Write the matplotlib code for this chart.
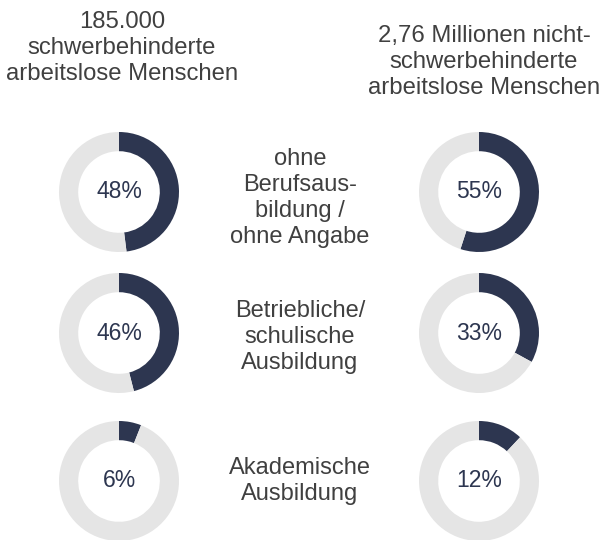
import matplotlib.pyplot as plt

plt.rcParams['font.family'] = ['Liberation Sans', 'DejaVu Sans']

# Daten
gruppen = ["185.000\nschwerbehinderte\narbeitslose Menschen",
           "2,76 Millionen nicht-\nschwerbehinderte\narbeitslose Menschen"]
kategorien = ["ohne\nBerufsaus-\nbildung /\nohne Angabe",
              "Betriebliche/\nschulische\nAusbildung",
              "Akademische\nAusbildung"]
anteil_sb = [48, 46, 6]
anteil_nsb = [55, 33, 12]

DUNKEL = "#2d3650"
HELL = "#e5e5e5"
TEXT = "#404040"

W, H = 603, 540
fig = plt.figure(figsize=(W / 100, H / 100), dpi=100)

# Positionen in Pixeln
spalten_x = [119, 479]
zeilen_y = [192, 333, 481]
radius = 60


def donut(cx, cy, wert):
    ax = fig.add_axes([(cx - radius) / W, 1 - (cy + radius) / H,
                       2 * radius / W, 2 * radius / H])
    ax.pie([wert, 100 - wert], colors=[DUNKEL, HELL], startangle=90,
           counterclock=False, radius=1.0,
           wedgeprops=dict(width=0.32, edgecolor='none'))
    ax.set_xlim(-1, 1)
    ax.set_ylim(-1, 1)
    ax.set_aspect('equal')
    ax.axis('off')
    ax.text(0, 0, f"{wert}%", ha='center', va='center',
            fontsize=16.5, color=DUNKEL)


for i in range(3):
    donut(spalten_x[0], zeilen_y[i], anteil_sb[i])
    donut(spalten_x[1], zeilen_y[i], anteil_nsb[i])

# Überschriften
fig.text(122 / W, 1 - 48 / H, gruppen[0], ha='center', va='center',
         fontsize=17.2, color=TEXT, linespacing=1.26)
fig.text(484 / W, 1 - 62 / H, gruppen[1], ha='center', va='center',
         fontsize=17.2, color=TEXT, linespacing=1.26)

# Kategorien in der Mitte
kat_y = [198, 337, 481]
for txt, y in zip(kategorien, kat_y):
    fig.text(300 / W, 1 - y / H, txt, ha='center', va='center',
             fontsize=17, color=TEXT, linespacing=1.25)

fig.savefig("out.png", dpi=100)
